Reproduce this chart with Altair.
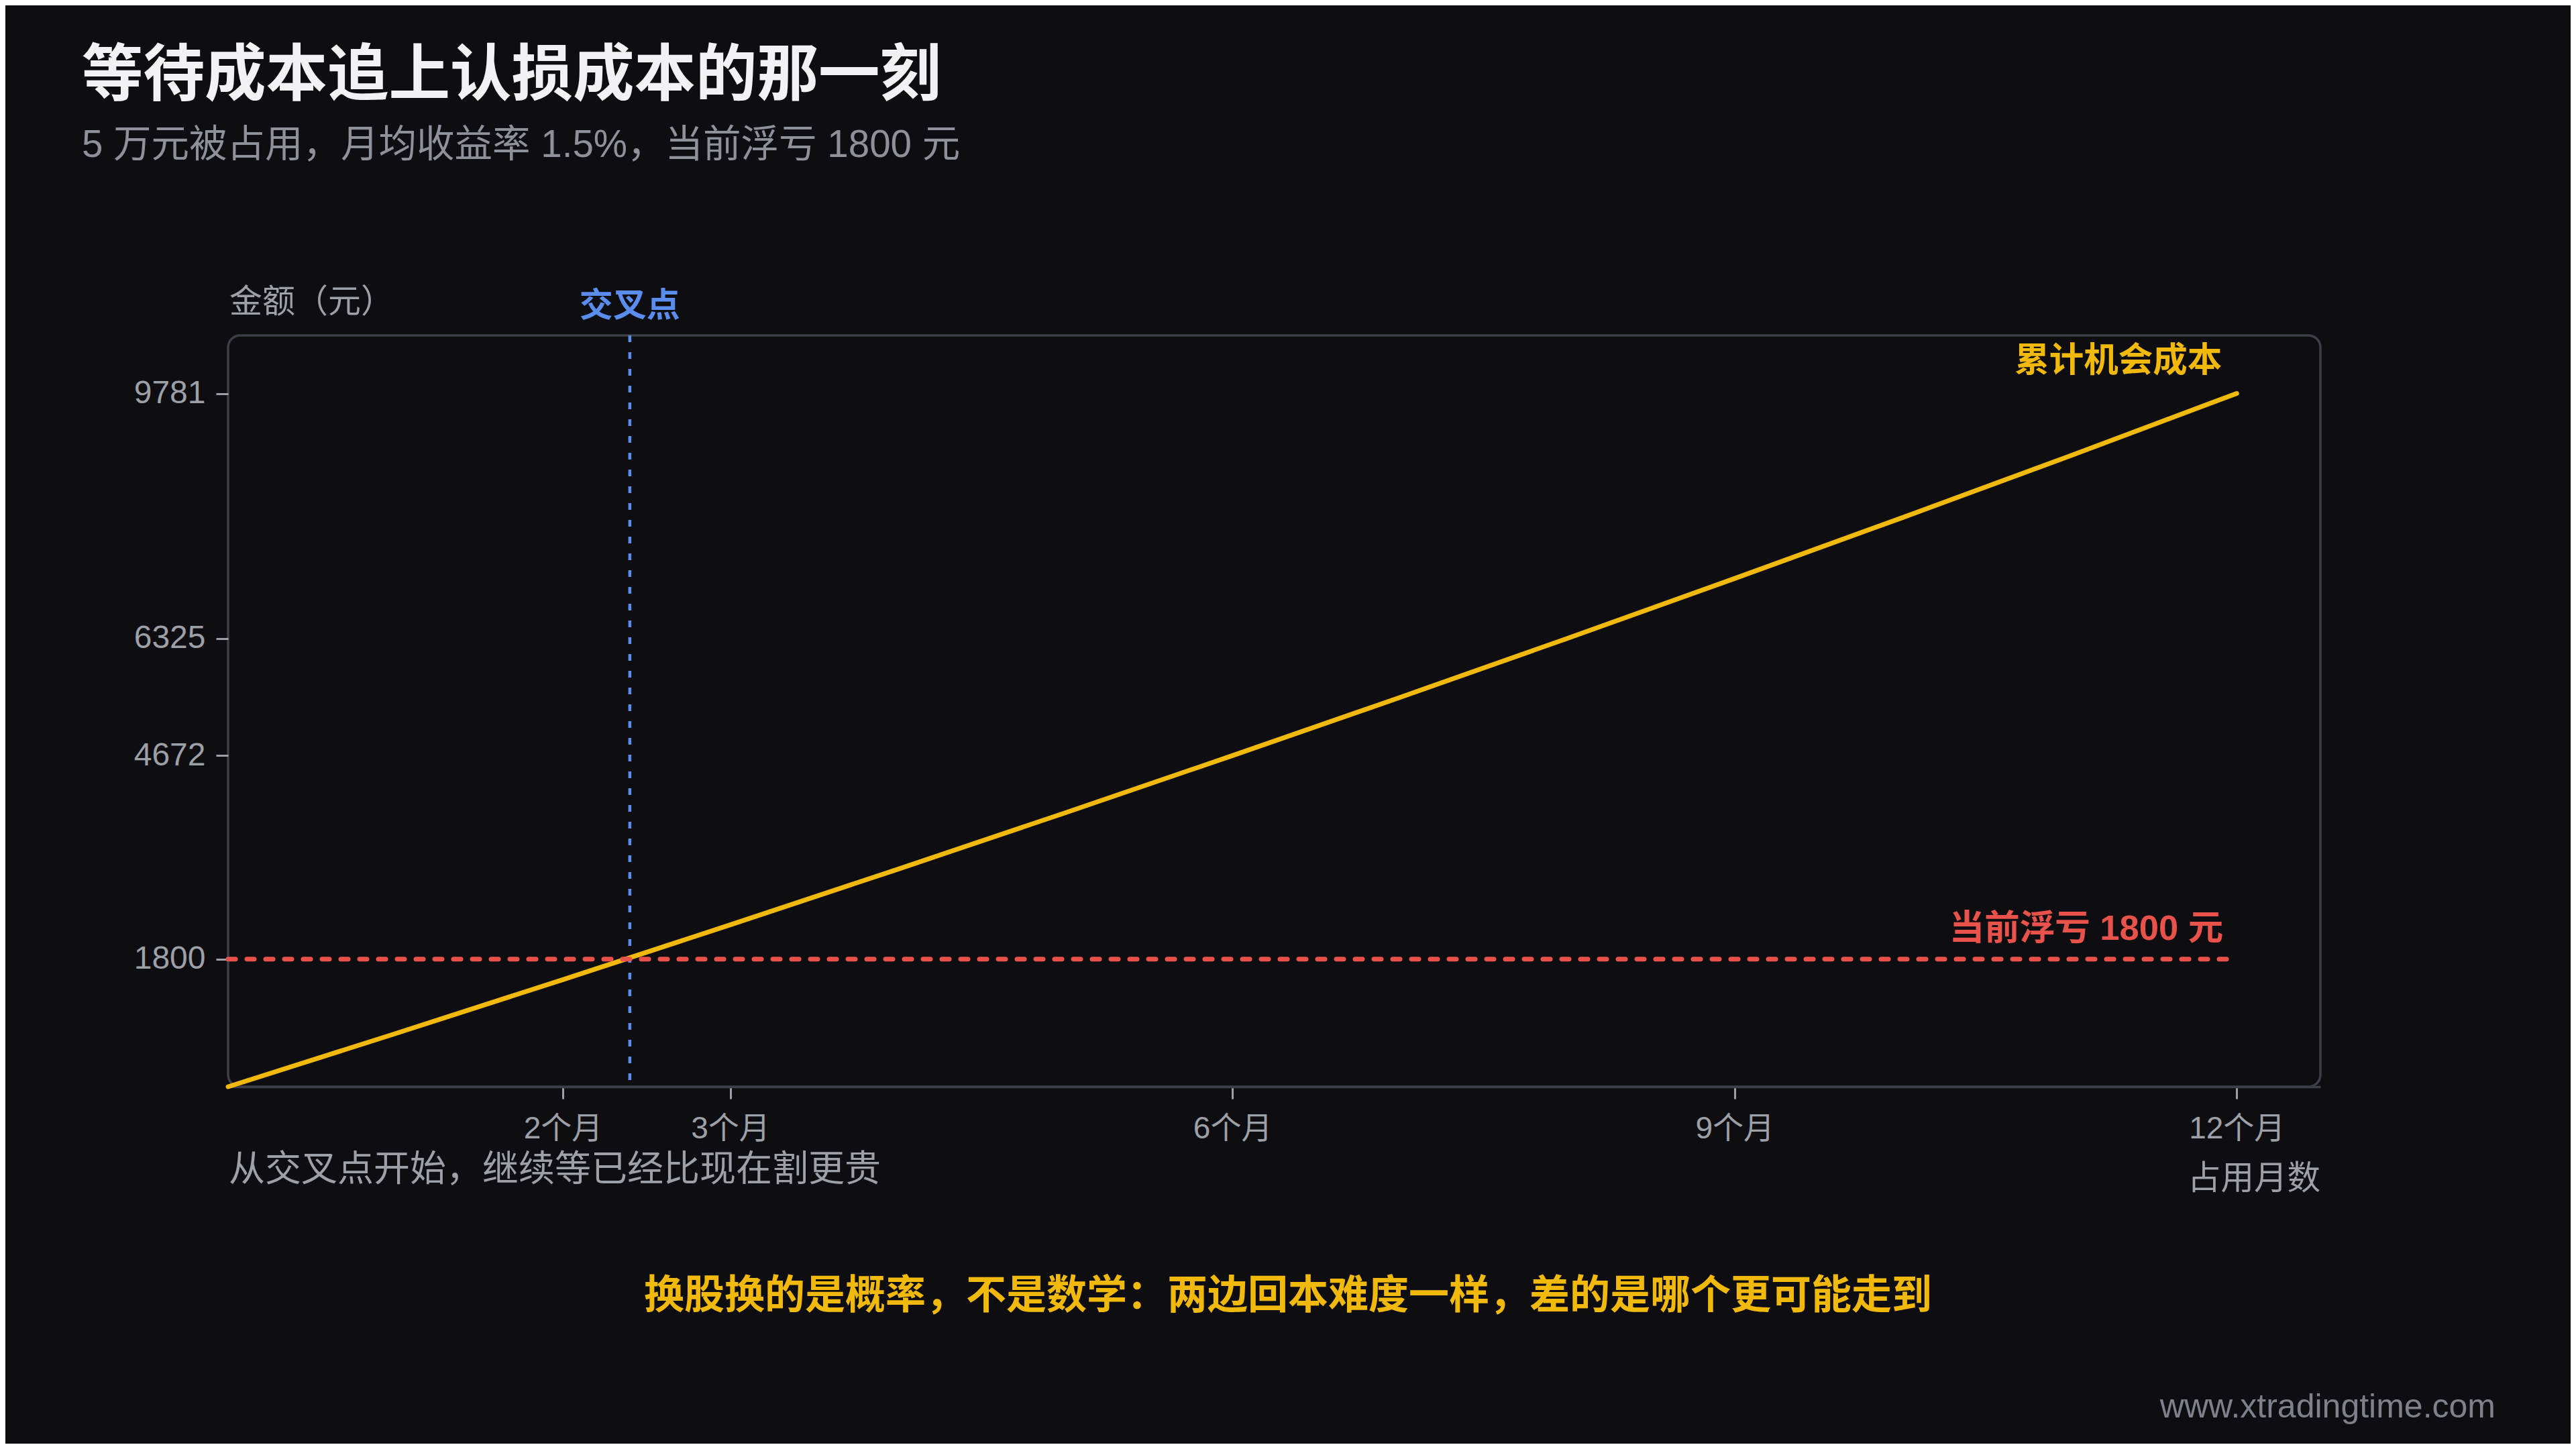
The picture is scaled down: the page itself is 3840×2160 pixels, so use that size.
import altair as alt
import pandas as pd

# ---------------- data ----------------
months = [0, 1, 2, 3, 4, 5, 6, 7, 8, 9, 10, 11, 12]
opportunity_cost = [0, 750, 1511, 2284, 3068, 3864, 4672, 5492, 6325, 7170, 8027, 8897, 9781]
loss_now = 1800
loss_start = 0
loss_end = 12
cross_month = 2.4
x_ticks = [2, 3, 6, 9, 12]
y_ticks = [1800, 4672, 6325, 9781]

title_text = "等待成本追上认损成本的那一刻"
subtitle_text = "5 万元被占用，月均收益率 1.5%，当前浮亏 1800 元"
y_title = "金额（元）"
x_title = "占用月数"
cross_label = "交叉点"
cost_label = "累计机会成本"
loss_label = "当前浮亏 1800 元"
note_text = "从交叉点开始，继续等已经比现在割更贵"
caption_text = "换股换的是概率，不是数学：两边回本难度一样，差的是哪个更可能走到"
watermark_text = "www.xtradingtime.com"

# ---------------- styles ----------------
BG = "#0E0E12"
YELLOW = "#F0B90B"
RED = "#E8524A"
BLUE = "#5B8DEF"
GRAY = "#9DA0A6"
BORDER = "#3C3F47"
FONT = "Liberation Sans, Noto Sans CJK SC, sans-serif"

W, H = 3119, 1120

xs = alt.Scale(domain=[0, 12.5], nice=False, zero=False)
ys = alt.Scale(domain=[0, 10600], nice=False, zero=False)

df_line = pd.DataFrame({"month": months, "cost": opportunity_cost})
df_loss = pd.DataFrame({"x0": [loss_start], "x1": [loss_end], "y": [loss_now]})
df_cross = pd.DataFrame({"m": [cross_month]})

x_axis = alt.Axis(
    values=x_ticks, labelExpr="datum.value + '个月'", title=None, grid=False,
    domain=True, domainColor=BORDER, domainWidth=3.5,
    ticks=True, tickColor=GRAY, tickSize=18, tickWidth=3,
    labelFontSize=46, labelColor=GRAY, labelFont=FONT, labelPadding=22,
    labelFlush=False, labelOverlap=False,
)
y_axis = alt.Axis(
    values=y_ticks, format="d", title=None, grid=False, domain=False,
    ticks=True, tickColor=GRAY, tickSize=18, tickWidth=3,
    labelFontSize=48, labelColor=GRAY, labelFont=FONT, labelPadding=16,
    labelFlush=False, labelOverlap=False,
)

line = alt.Chart(df_line).mark_line(
    color=YELLOW, strokeWidth=7, strokeCap="round", strokeJoin="round"
).encode(
    x=alt.X("month:Q", scale=xs, axis=x_axis),
    y=alt.Y("cost:Q", scale=ys, axis=y_axis),
)

loss_rule = alt.Chart(df_loss).mark_rule(
    color=RED, strokeWidth=7, strokeDash=[11, 17], strokeCap="round"
).encode(
    x=alt.X("x0:Q", scale=xs),
    x2="x1:Q",
    y=alt.Y("y:Q", scale=ys),
)

cross_rule = alt.Chart(df_cross).mark_rule(
    color=BLUE, strokeWidth=4.5, strokeDash=[10, 15]
).encode(x=alt.X("m:Q", scale=xs))


def txt(text, size, color, weight="normal", align="left", dx=0, dy=0, **enc):
    return alt.Chart(pd.DataFrame({"t": [text]})).mark_text(
        align=align, baseline="middle", fontSize=size, font=FONT,
        fontWeight=weight, color=color, dx=dx, dy=dy,
    ).encode(text="t:N", **enc)


t_title = txt(title_text, 91.5, "#F2F2F5", "bold", x=alt.value(-218), y=alt.value(-385))
t_sub = txt(subtitle_text, 56.5, "#8E9199", x=alt.value(-218), y=alt.value(-283))
t_ytitle = txt(y_title, 49, GRAY, x=alt.value(2), y=alt.value(-49))
t_cross = alt.Chart(df_cross).mark_text(
    align="center", baseline="middle", fontSize=50, font=FONT,
    fontWeight="bold", color=BLUE, text=cross_label,
).encode(x=alt.X("m:Q", scale=xs), y=alt.value(-43))
t_cost = txt(cost_label, 51.5, YELLOW, "bold", align="right", dx=-22,
             x=alt.datum(12), y=alt.value(39))
t_loss = txt(loss_label, 52.5, RED, "bold", align="right", dx=-20, dy=-45,
             x=alt.datum(12), y=alt.datum(loss_now))
t_note = txt(note_text, 54, GRAY, x=alt.value(1), y=alt.value(1245))
t_xtitle = txt(x_title, 49.5, GRAY, align="right", x=alt.value(W), y=alt.value(1258))
t_caption = txt(caption_text, 60, YELLOW, "bold", align="center", x=alt.value(1580), y=alt.value(1433))
t_wm = txt(watermark_text, 50, "#7E818A", align="right", x=alt.value(3380), y=alt.value(1598))

chart = alt.layer(
    cross_rule, line, loss_rule,
    t_title, t_sub, t_ytitle, t_cross, t_cost, t_loss, t_note, t_xtitle, t_caption, t_wm,
).properties(
    width=W, height=H,
    autosize=alt.AutoSizeParams(type="none"),
    padding={"left": 332, "top": 492, "right": 373, "bottom": 532},
    background=BG,
).configure_view(
    stroke=BORDER, strokeWidth=3.5, cornerRadius=18,
)

chart.save("out.html", embed_options={"renderer": "svg", "actions": False})
